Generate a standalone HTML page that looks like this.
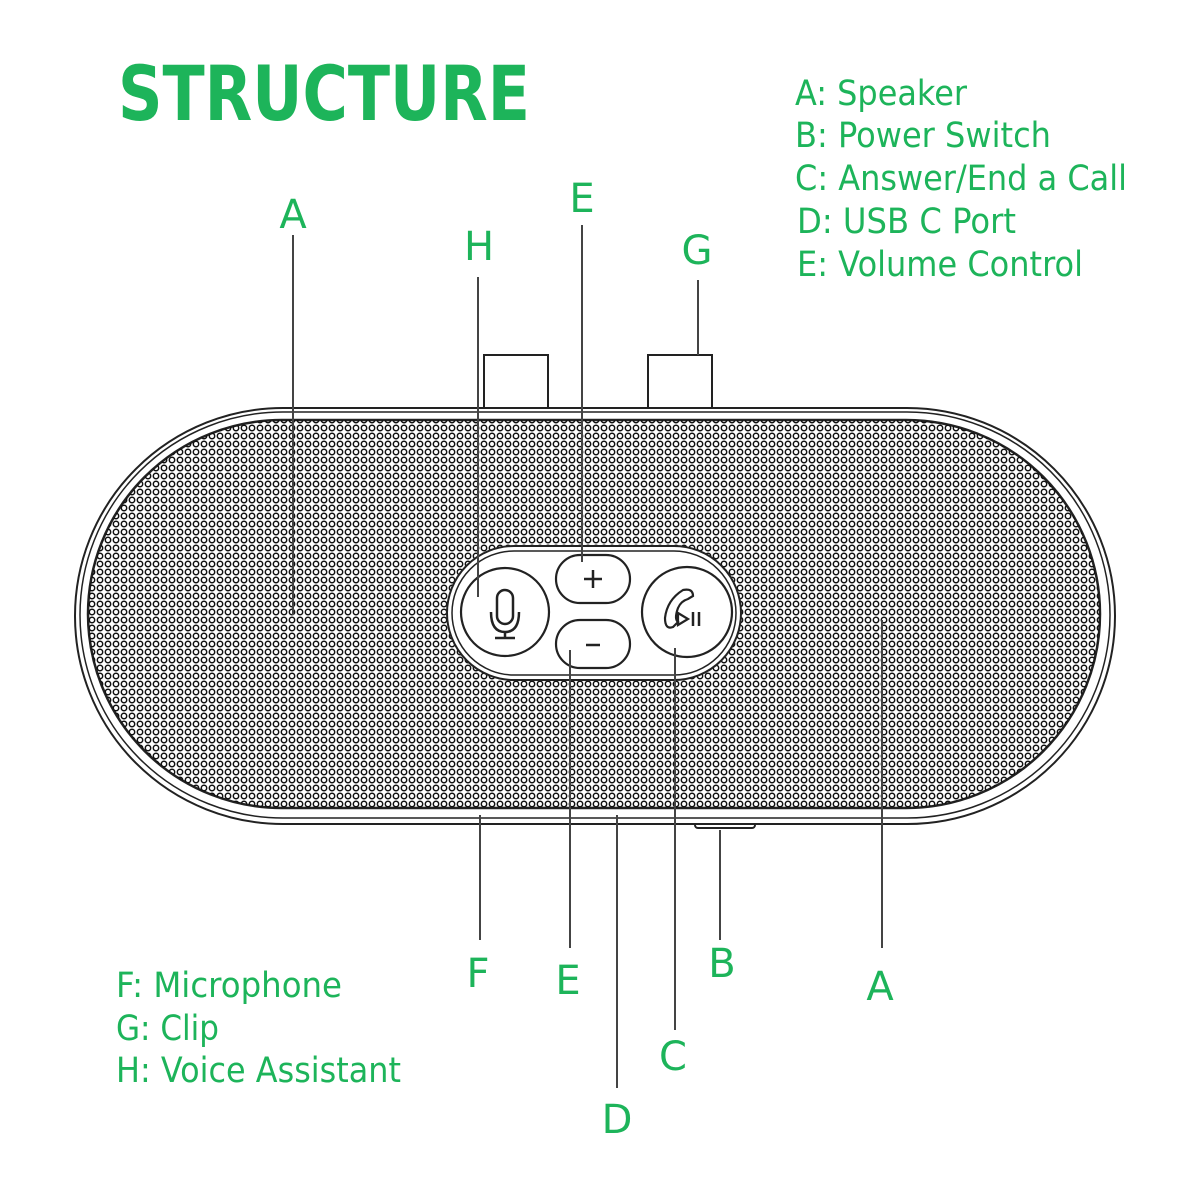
<!DOCTYPE html>
<html><head><meta charset="utf-8"><style>
html,body{margin:0;padding:0;background:#fff}
svg{display:block}
text{font-family:"DejaVu Sans","Liberation Sans",sans-serif;fill:#1db45a}
</style></head><body>
<svg width="1200" height="1200" viewBox="0 0 1200 1200" xmlns="http://www.w3.org/2000/svg">
<defs>
<pattern id="g" width="8" height="8" patternUnits="userSpaceOnUse">
<circle cx="4" cy="4" r="2.7" fill="none" stroke="#111" stroke-width="1.5"/>
</pattern>
<clipPath id="c"><rect x="88" y="420" width="1012" height="388" rx="194"/></clipPath>
</defs>
<text x="118" y="120" font-size="76" font-weight="bold" textLength="412" lengthAdjust="spacingAndGlyphs" font-family="Liberation Sans">STRUCTURE</text>
<g font-size="35">
<text x="795" y="105" textLength="172" lengthAdjust="spacingAndGlyphs">A: Speaker</text>
<text x="795" y="147" textLength="256" lengthAdjust="spacingAndGlyphs">B: Power Switch</text>
<text x="795" y="190" textLength="332" lengthAdjust="spacingAndGlyphs">C: Answer/End a Call</text>
<text x="797" y="233" textLength="219" lengthAdjust="spacingAndGlyphs">D: USB C Port</text>
<text x="797" y="276" textLength="286" lengthAdjust="spacingAndGlyphs">E: Volume Control</text>
<text x="116" y="997" textLength="226" lengthAdjust="spacingAndGlyphs">F: Microphone</text>
<text x="116" y="1040" textLength="103" lengthAdjust="spacingAndGlyphs">G: Clip</text>
<text x="116" y="1082" textLength="285" lengthAdjust="spacingAndGlyphs">H: Voice Assistant</text>
</g>
<g font-size="40" text-anchor="middle">
<text x="293" y="228">A</text><text x="479" y="260">H</text><text x="582" y="212">E</text>
<text x="697" y="264">G</text><text x="478" y="987">F</text><text x="568" y="994">E</text>
<text x="722" y="977">B</text><text x="880" y="1000">A</text><text x="673" y="1070">C</text>
<text x="617" y="1133">D</text>
</g>
<g fill="#fff" stroke="#222" stroke-width="2">
<rect x="484" y="355" width="64" height="55"/>
<rect x="648" y="355" width="64" height="55"/>
<rect x="695" y="818" width="60" height="10" rx="3"/>
</g>
<rect x="75" y="408" width="1040" height="416" rx="208" fill="#fff" stroke="#222" stroke-width="2"/>
<rect x="80" y="412" width="1030" height="406" rx="203" fill="none" stroke="#222" stroke-width="1.5"/>
<rect x="88" y="420" width="1012" height="388" rx="194" fill="#fff" stroke="#222" stroke-width="2.5"/>
<rect x="88" y="420" width="1012" height="388" fill="url(#g)" clip-path="url(#c)"/>
<rect x="447" y="546" width="294" height="134" rx="67" fill="#fff" stroke="#222" stroke-width="2"/>
<rect x="452" y="551" width="284" height="124" rx="62" fill="none" stroke="#222" stroke-width="1.5"/>
<g fill="#fff" stroke="#222" stroke-width="2.2">
<circle cx="505" cy="612" r="44"/>
<circle cx="687" cy="612" r="45"/>
<rect x="556" y="555" width="74" height="48" rx="24"/>
<rect x="556" y="620" width="74" height="48" rx="24"/>
</g>
<g stroke="#222" stroke-width="2.5" fill="none">
<path d="M593 570v18M584 579h18"/>
<path d="M586 645h14"/>
<rect x="497" y="590" width="16" height="34" rx="8"/>
<path d="M491 612q0 20 14 20q14 0 14-20M505 632v7M495 638h20"/>
<path d="M683 590q-16 10-18 28q0 12 8 9l5-5q-4-3 0-14q3-7 10-9l5-3q0-8-10-6z" stroke-width="2.2"/>
<path d="M678 613l10 6-10 6z" stroke-width="2.2"/>
<path d="M693 612v14M699 612v14" stroke-width="2.5"/>
</g>
<g stroke="#444" stroke-width="2">
<path d="M293 235V615"/><path d="M478 277V597"/><path d="M582 225V562"/>
<path d="M698 280V355"/><path d="M480 815V940"/><path d="M570 650V948"/>
<path d="M617 815V1088"/><path d="M675 648V1030"/><path d="M720 830V940"/>
<path d="M882 620V948"/>
</g>
</svg>
</body></html>
